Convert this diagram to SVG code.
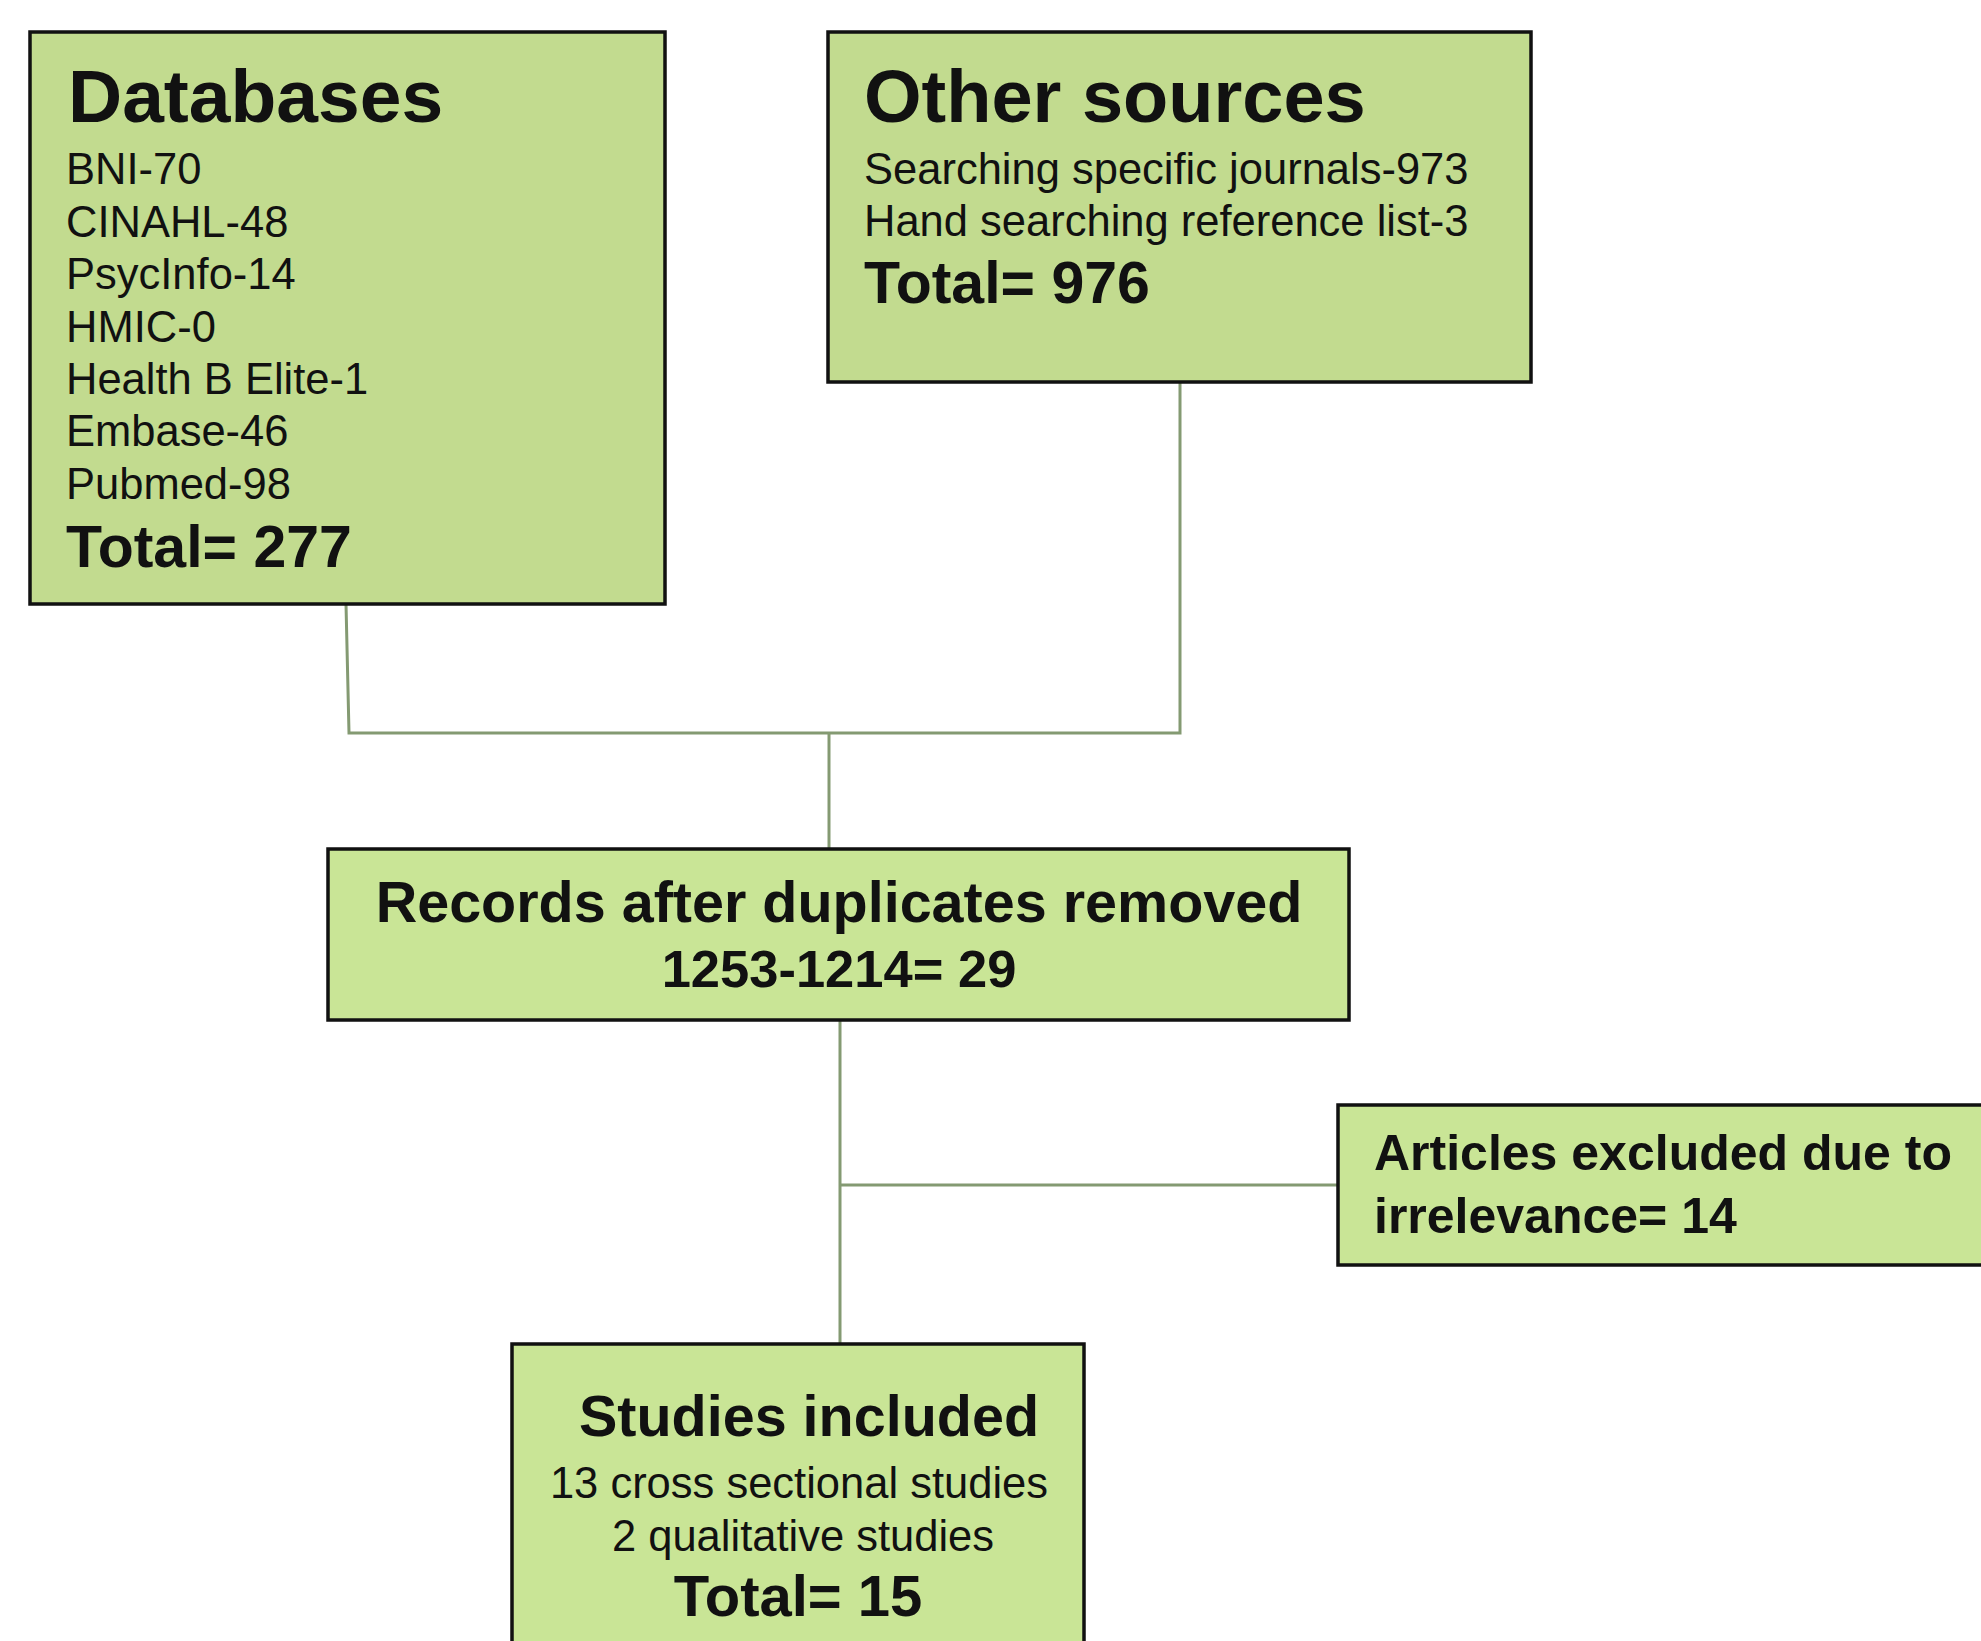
<svg xmlns="http://www.w3.org/2000/svg" width="1981" height="1641" viewBox="0 0 1981 1641">
<style>
.box{stroke:#111;stroke-width:3.5}
.top{fill:#c2db8f}
.low{fill:#c9e596}
.conn{fill:none;stroke:#849a72;stroke-width:3}
text{font-family:"Liberation Sans",Arial,sans-serif;fill:#111}
.b{font-weight:bold}
.r{font-weight:normal}
.c{text-anchor:middle}
</style>
<rect width="1981" height="1641" fill="#fff"/>
<g id="connectors">
<polyline class="conn" points="346,604 349,733 1180,733 1180,382"/>
<line class="conn" x1="829" y1="733" x2="829" y2="849"/>
<line class="conn" x1="840" y1="1020" x2="840" y2="1344"/>
<line class="conn" x1="840" y1="1185" x2="1338" y2="1185"/>
</g>
<g id="databases">
<rect class="box top" x="30" y="32" width="635" height="572"/>
<text class="b" x="68" y="122" font-size="75">Databases</text>
<text class="r" font-size="43.5">
<tspan x="66" y="184">BNI-70</tspan>
<tspan x="66" y="237">CINAHL-48</tspan>
<tspan x="66" y="289">PsycInfo-14</tspan>
<tspan x="66" y="342">HMIC-0</tspan>
<tspan x="66" y="394">Health B Elite-1</tspan>
<tspan x="66" y="446">Embase-46</tspan>
<tspan x="66" y="499">Pubmed-98</tspan>
</text>
<text class="b" x="66" y="567" font-size="59">Total= 277</text>
</g>
<g id="other-sources">
<rect class="box top" x="828" y="32" width="703" height="350"/>
<text class="b" x="864" y="122" font-size="74">Other sources</text>
<text class="r" font-size="43.5">
<tspan x="864" y="184">Searching specific journals-973</tspan>
<tspan x="864" y="236">Hand searching reference  list-3</tspan>
</text>
<text class="b" x="864" y="303" font-size="59">Total= 976</text>
</g>
<g id="records">
<rect class="box low" x="328" y="849" width="1021" height="171"/>
<text class="b c" x="839" y="922" font-size="57.5">Records after duplicates removed</text>
<text class="b c" x="839" y="987" font-size="52.5">1253-1214= 29</text>
</g>
<g id="excluded">
<rect class="box low" x="1338" y="1105" width="660" height="160"/>
<text class="b" x="1374" y="1170" font-size="50">Articles excluded due to</text>
<text class="b" x="1374" y="1233" font-size="50">irrelevance= 14</text>
</g>
<g id="included">
<rect class="box low" x="512" y="1344" width="572" height="320"/>
<text class="b c" x="809" y="1436" font-size="57.5">Studies included</text>
<text class="r c" font-size="43.5">
<tspan x="805" y="1498">13 cross sectional studies</tspan>
<tspan x="803" y="1551">2 qualitative studies</tspan>
</text>
<text class="b c" x="798" y="1616" font-size="58">Total= 15</text>
</g>
</svg>
